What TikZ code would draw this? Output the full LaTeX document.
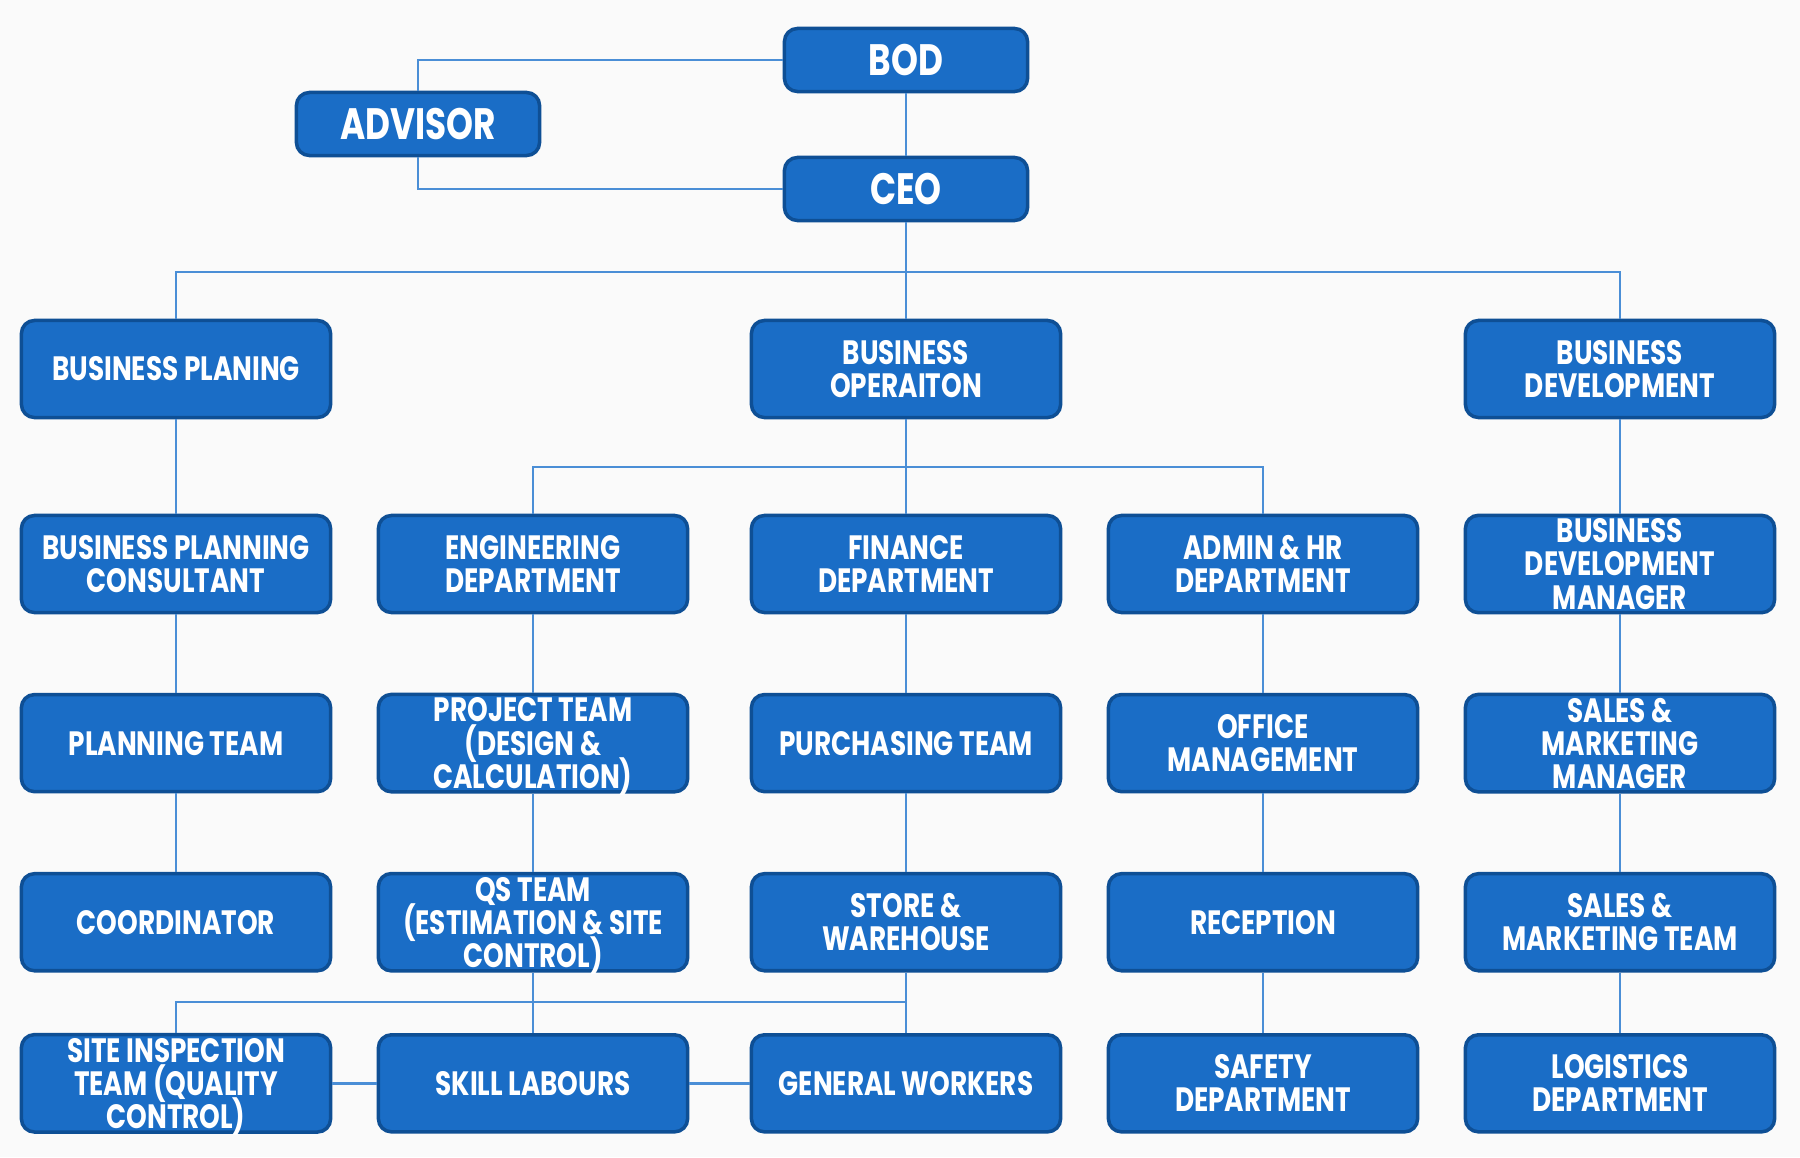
\documentclass[tikz,border=0pt]{standalone}
\usepackage{fontspec}
\setmainfont{Poppins}[FakeStretch=0.78,LetterSpace=0]
\usetikzlibrary{positioning}

\definecolor{boxblue}{HTML}{1A6DC6}
\definecolor{boxedge}{HTML}{0E4F95}
\definecolor{linkblue}{HTML}{4A8ED6}

\begin{document}
\begin{tikzpicture}[x=0.01cm, y=-0.01cm, node distance=1.79cm, on grid,
  unit/.style={draw=boxedge, line width=1pt, fill=boxblue, rounded corners=1.3mm,
    minimum width=3.09cm, minimum height=0.97cm, inner sep=1pt, align=center,
    text=white, font=\bfseries\fontsize{9.6}{9.4}\selectfont},
  topunit/.style={unit, minimum width=2.43cm, minimum height=0.63cm,
    font=\bfseries\fontsize{12.5}{13}\selectfont},
  link/.style={draw=linkblue, line width=0.7pt}]
  \useasboundingbox[fill=black!2] (0,0) rectangle (1800,1157);

  % top of the chart
  \node[topunit] (bod) at (906,60) {BOD};
  \node[topunit] (advisor) at (418,124) {ADVISOR};
  \node[topunit] (ceo) at (906,189) {CEO};

  % three branches
  \node[unit] (bplan) at (176,369) {BUSINESS PLANING};
  \node[unit] (bop) at (906,369) {BUSINESS\\OPERAITON};
  \node[unit] (bdev) at (1620,369) {BUSINESS\\DEVELOPMENT};

  % departments
  \node[unit] (bpc) at (176,564) {BUSINESS PLANNING\\CONSULTANT};
  \node[unit] (eng) at (533,564) {ENGINEERING\\DEPARTMENT};
  \node[unit] (fin) at (906,564) {FINANCE\\DEPARTMENT};
  \node[unit] (adm) at (1263,564) {ADMIN \& HR\\DEPARTMENT};
  \node[unit] (bdm) at (1620,564) {BUSINESS\\DEVELOPMENT\\MANAGER};

  % teams
  \node[unit] (plteam) [below=of bpc] {PLANNING TEAM};
  \node[unit] (prteam) [below=of eng] {PROJECT TEAM\\\smash{(}DESIGN \&\\CALCULATION\smash{)}};
  \node[unit] (purch) [below=of fin] {PURCHASING TEAM};
  \node[unit] (office) [below=of adm] {OFFICE\\MANAGEMENT};
  \node[unit] (smm) [below=of bdm] {SALES \&\\MARKETING\\MANAGER};

  \node[unit] (coord) [below=of plteam] {COORDINATOR};
  \node[unit] (qs) [below=of prteam] {QS TEAM\\\smash{(}ESTIMATION \& SITE\\CONTROL\smash{)}};
  \node[unit] (store) [below=of purch] {STORE \&\\WAREHOUSE};
  \node[unit] (recep) [below=of office] {RECEPTION};
  \node[unit] (smt) [below=of smm] {SALES \&\\MARKETING TEAM};

  \node[unit] (site) [below=1.61cm of coord] {SITE INSPECTION\\TEAM \smash{(}QUALITY\\CONTROL\smash{)}};
  \node[unit] (skill) [below=1.61cm of qs] {SKILL LABOURS};
  \node[unit] (gen) [below=1.61cm of store] {GENERAL WORKERS};
  \node[unit] (safety) [below=1.61cm of recep] {SAFETY\\DEPARTMENT};
  \node[unit] (logi) [below=1.61cm of smt] {LOGISTICS\\DEPARTMENT};

  \coordinate (ceobus) at (906,272);
  \coordinate (opbus) at (906,467);
  \coordinate (lowbus) at (906,1002);

  \draw[link] (bod.west) -| (advisor.north);
  \draw[link] (advisor.south) |- (ceo.west);
  \draw[link] (ceobus) -| (bplan.north);
  \draw[link] (ceobus) -| (bdev.north);
  \draw[link] (opbus) -| (eng.north);
  \draw[link] (opbus) -| (adm.north);
  \draw[link] (lowbus) -| (site.north);

  \path[link]
    (bod) edge (ceo)
    (ceo) edge (bop)
    (bop) edge (fin)
    (bplan) edge (bpc) (bpc) edge (plteam) (plteam) edge (coord)
    (eng) edge (prteam) (prteam) edge (qs) (qs) edge (skill)
    (fin) edge (purch) (purch) edge (store) (store) edge (gen)
    (adm) edge (office) (office) edge (recep) (recep) edge (safety)
    (bdev) edge (bdm) (bdm) edge (smm) (smm) edge (smt) (smt) edge (logi)
    (site) edge (skill) (skill) edge (gen);
\end{tikzpicture}
\end{document}
